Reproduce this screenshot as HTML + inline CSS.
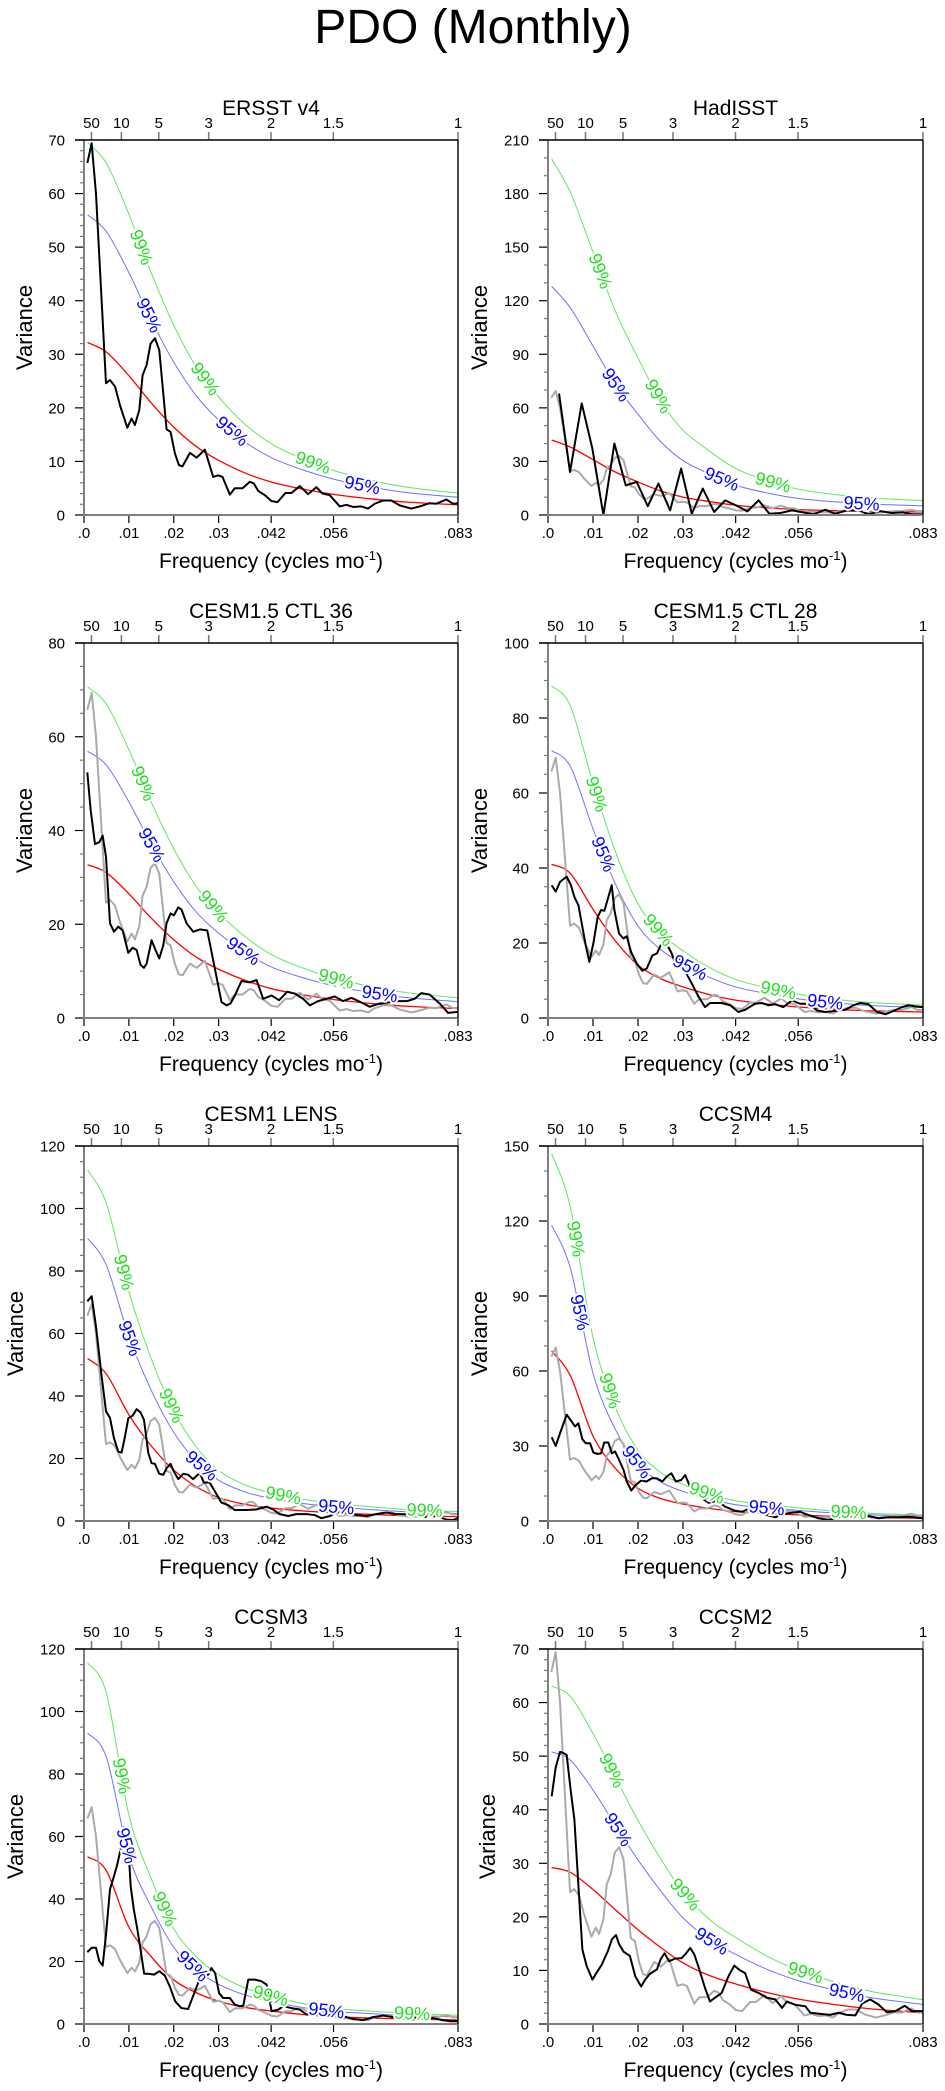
<!DOCTYPE html>
<html><head><meta charset="utf-8"><style>
html,body{margin:0;padding:0;background:#fff;}
svg{display:block;font-family:"Liberation Sans",Arial,sans-serif;}
</style></head><body>
<svg id="fig" width="945" height="2091" viewBox="0 0 945 2091" xmlns="http://www.w3.org/2000/svg">
<rect width="945" height="2091" fill="#fff"/>
<text x="473" y="43" font-size="48" text-anchor="middle">PDO (Monthly)</text>
</svg>
<script>
// ---- data (frequency in 1e-3 cycles/mo) ----
const BF_ERSST=[0.74,1.71,2.67,4.90,5.79,6.90,8.01,9.65,10.61,11.35,12.32,13.06,13.95,14.84,15.80,16.77,18.40,19.29,20.26,21.15,21.96,23.60,25.08,26.93,28.79,29.90,30.87,32.50,33.61,35.32,36.95,37.84,38.81,40.29,41.78,43.11,44.89,46.23,48.08,49.94,51.79,53.13,54.76,56.99,58.47,59.95,61.81,63.29,64.78,66.63,68.49,70.34,72.94,74.79,77.02,78.50,80.73,82.21,83.33];
const BV_ERSST=[65.7,69.4,60,24.6,25.2,24,20.5,16.3,18,16.8,19.6,26.1,28,32,33,30.8,16,15.5,11.5,9.3,9.1,11.6,10.7,12.2,7.1,7.4,7.1,3.8,5,5,6.2,5.9,4.5,3.7,2.6,2.4,4.1,4.1,5.4,3.9,5.2,4,3.7,1.6,1.9,1.5,1.6,1.2,2.1,2.7,2.7,1.8,1.2,1.6,2.2,2.1,2.9,2.1,2.2];
const BF_HAD=[2.45,4.89,7.49,9.86,12.31,14.75,17.27,19.72,22.17,24.54,27.14,29.58,31.95,34.4,36.92,39.37,41.8,44.3,46.8,49.2,51.6,54.2,59,61.6,63.8,66.4,69,71.2,73.8,76.4,78.7,80.9,83.3];
const BV_HAD=[68,24.1,62.5,37.2,0,40,16.6,18.5,4.9,17.6,2.6,26,0.7,14.8,1.7,8.2,5.4,2,8.2,0.7,1.1,2.6,0.4,3,0.7,2.6,2.6,0.4,2.2,1.1,1.5,0.4,0.4];
const BF_C36=[0.74,1.48,2.45,3.41,4.16,4.90,5.79,6.68,7.64,8.61,9.87,10.83,11.72,12.61,13.36,13.95,15.06,15.80,16.77,17.66,18.40,19.29,20.03,21.0,21.74,22.85,24.34,25.82,27.45,28.79,30.64,31.76,32.65,33.61,35.1,36.95,38.44,39.92,41.78,43.48,45.26,46.97,48.82,50.31,52.16,54.02,55.87,57.73,59.58,61.81,63.66,65.89,67.74,69.97,71.97,73.68,75.16,77.02,79.25,81.10,83.33];
const BV_C36=[52.4,44.4,37.1,37.5,38.9,34.4,20.2,18.4,19.5,18.7,13.9,15,14.5,11.3,10.7,11.6,16.6,14.8,12.7,15.5,20.2,22.3,21.9,23.6,23.1,20.2,18.4,18.9,18.7,12.3,3.4,2.7,3.1,4.8,7.9,7.6,8.1,4.1,4.8,3.8,5.6,5.2,4.1,2.7,3.6,4.1,4.6,3.6,4.3,3.3,2.4,3.1,3.3,3.6,3.6,4.1,5.3,5,3.1,1.1,1.3];
const BF_C28=[0.82,1.71,2.67,4.15,5.1,5.86,6.75,7.64,8.38,9.19,10.08,11.05,11.8,12.53,13.42,14.16,14.75,15.79,16.76,17.5,18.46,19.72,20.98,21.95,23.2,24.2,25.4,26.4,27.5,28.4,29.6,30.8,31.95,33.4,34.9,36,38.6,40.5,42.3,43.8,46,47.5,49,50.5,52.3,54.2,56,57.9,59.8,61.6,63.8,66.1,67.9,69.4,71.2,73.1,75,76.8,78.7,80.1,81.6,83.3];
const BV_C28=[35.4,33.7,36.3,37.7,35.4,32.3,30.1,24.3,19.4,15,19.9,27,28.8,28.6,32.3,35.4,28.8,22.5,21.2,21.8,17.6,14.5,12.6,13.2,16.7,17.2,20.3,19.7,17.2,14.1,15.9,11.8,9.2,5.8,2.9,4,4,3.4,1.6,2.2,3.8,4,3.4,3.7,2.9,4.7,3.8,3.8,2,1.6,1.9,2.2,3.4,4,3.7,1.6,1,1.9,2.9,3.4,3.1,2.9];
const BF_LENS=[0.74,1.71,2.67,3.93,4.90,5.79,6.68,7.64,8.38,9.13,9.87,10.83,11.72,12.61,13.36,14.32,15.06,15.8,16.77,17.66,18.4,19.29,20.03,21,22.1,23.2,24.3,25.8,26.7,28.0,29.2,30.6,32.1,33.6,36.2,38.4,40.7,42.1,43.6,45.5,47.3,49.6,51.4,52.9,54.8,56.2,58.5,60.7,62.9,65.1,67.4,69.6,71.8,74,76.3,78.5,80.7,82.2,83.3];
const BV_LENS=[70.3,71.9,62.3,46.3,35.1,33,26.5,22.2,21.9,27,32.9,33.7,35.8,34.7,32.4,21.8,18.5,18.3,15.1,14.8,16.9,18.3,15.8,13.4,15.1,14.8,13.4,15.4,12.3,12.3,9.4,5.9,5.1,3.5,3.5,3.7,4.6,3.7,2.2,1.6,2.2,2.2,1.9,0.9,1.6,2.7,2.7,1.9,1.6,2.2,2.7,2.2,2.2,2.2,1.2,1.6,0.5,0.3,0.9];
const BF_CCSM4=[0.82,1.71,2.67,4.15,5.26,6.0,6.75,7.64,8.38,9.34,10.08,11.05,11.8,12.5,13.4,14.2,14.9,15.8,16.8,17.5,18.5,19.5,20.7,21.9,23.1,24.2,25.4,26.4,27.4,28.4,29.6,30.5,31.4,32.7,34.2,35.7,37.5,39.4,41.6,43.1,44.9,46.8,48.6,50.5,52.3,54.2,56,57.9,60.1,62.4,64.6,66.8,69,71.2,73.5,75.7,77.9,80.1,83.3];
const BV_CCSM4=[33.5,30,35.1,42.5,39.8,37.8,39.1,32.7,31.1,31.1,27.4,26.8,27.1,31.4,31.4,27.1,27.8,24.4,20.4,15.8,12.2,14.4,16.2,15.8,17.1,17.1,15.8,17.8,19.1,15.8,16.4,18.4,14.4,12.4,9.1,7.3,8.1,5.7,4.1,3.7,5.1,3.7,2.4,1.5,2.8,3.3,3.7,2.4,1.1,0.4,1.5,2.8,2.8,2,1.1,1.5,1.5,1.7,1.1];
const BF_CCSM3=[0.74,1.71,2.67,3.41,4.16,4.90,5.79,6.68,7.42,8.16,8.9,9.65,10.4,11.1,11.9,12.6,13.4,14.3,15.6,16.8,18,19.1,20.3,21.7,23.2,24.3,25.5,26.6,27.7,28.4,29.2,30.1,31,32.5,33.6,34.7,35.5,36.6,38.1,39.5,40.7,41.8,43.3,44.4,46.2,48.1,49.6,51.8,53.6,55.5,57.7,60,62.2,64.4,66.6,68.9,71.1,73.3,75.5,77.8,80,81.5,83.3];
const BV_CCSM3=[23,24.4,24.4,20.1,18.7,28.6,43.1,47.3,51.1,55.9,63,62.3,44.1,36.6,30.2,23.8,16.1,16.1,15.8,16.9,15.5,12.1,7.3,5.1,4.8,8.9,13.4,15.5,15.8,17.9,16.3,9.9,8.3,8.3,6.2,5.7,5.9,14.2,14.2,13.7,12.6,4.1,4.6,5.7,5.1,4.6,3,3.5,2.7,3,2.5,1.6,1.2,2.2,2.7,2.2,2.5,2.2,1.9,1.9,1.2,0.9,0.9];
const BF_CCSM2=[0.82,1.71,2.67,3.41,4.15,5.1,5.86,6.9,7.64,8.6,9.86,11.05,11.9,13.3,14.2,15.1,15.8,16.8,18.2,19.4,20.7,21.6,22.7,24.2,25.1,25.9,26.9,28.2,29.7,30.5,31.6,32.5,33.4,34.9,36,37.1,38.6,40.1,41.4,42.7,43.8,45.1,46.8,48.6,50.5,52,53.1,54.9,57.2,58.3,60.5,62.7,64.6,66.4,68.3,69.8,71.6,73.5,75.3,77.2,79.3,80.9,83.3];
const BV_CCSM2=[42.5,47.9,50.8,50.6,50.2,43.2,38.2,23.9,13.9,10.8,8.3,9.9,11,13.6,15.8,16.6,14.9,13.5,12.7,8.9,7,8.3,9.4,10.2,12.2,13.2,11.7,12.2,12.3,13,14.2,13,10.8,6.7,4.2,4.9,5.8,8.9,10.9,10,9.5,6.4,5.8,4.9,4.6,3,4.2,3.6,3.3,2.1,1.9,1.7,2.1,1.7,1.6,3.8,4.6,3.6,2.2,2.4,3.4,2.4,2.4];
// red-noise spectra sampled on a common frequency grid
const RED_FREQ=[0.8,5,10,15,20,25,30,36,42,49,56,64,72,83.3];
const RED_ERSST=[32.2,30.4,26,20.9,16.4,12.8,10.2,7.8,6.1,4.8,3.8,3.0,2.4,1.9];
const RED_HAD=[42,38,31,24,18.5,13.5,10,7.5,5.4,4,3,2.4,2,1.7];
const RED_C36=[32.7,31,26.5,21.3,16.7,13,10.4,8,6.2,4.9,3.9,3.1,2.5,2.0];
const RED_C28=[41,38.5,29,20.5,14.1,10.5,8.3,6.2,4.7,3.7,2.9,2.3,1.9,1.6];
const RED_LENS=[52,47,34,24,16.3,11,7.5,5.3,4.1,3.2,2.6,2.1,1.7,1.4];
const RED_CCSM4=[68,58,34,21,13.1,9,6.8,5,3.7,3,2.4,1.8,1.4,1.1];
const RED_CCSM3=[53.5,49,31,21.5,14.1,10,7.3,5.3,4.1,3,2.3,1.9,1.6,1.3];
const RED_CCSM2=[29.2,28.3,25.1,21.3,17.6,14.3,11.4,9,7.4,5.8,4.6,3.6,2.8,2.1];
const K95=[1.74,3.05,1.74,1.74,1.74,1.74,1.74,1.74];
const K99=[2.16,4.75,2.16,2.16,2.16,2.16,2.16,2.16];
const TITLES=["ERSST v4","HadISST","CESM1.5 CTL 36","CESM1.5 CTL 28","CESM1 LENS","CCSM4","CCSM3","CCSM2"];
const YMAX=[70,210,80,100,120,150,120,70];
const YMAJOR=[10,30,20,20,20,30,20,10];
const YMINOR=[2,10,5,5,5,10,5,2];
const L99=[[12.8,27,51],[11.6,24.5,50],[13.2,28.8,56.2],[10.8,24.5,51.2],[8.9,19.5,44.4,75.9],[6.2,13.8,35.3,66.8],[8.4,18,41.6,73.1],[14.2,30.5,57.2]];
const L95=[[14.5,33,62],[15.1,38.6,69.7],[15.1,35.5,65.9],[12.3,31.6,61.6],[10.2,26.2,56.2],[7.1,19.7,48.6],[9.5,24.2,54],[15.6,36.4,66.4]];
const XTICKS=[0,10,20,30,41.7,55.6,83.33];
const XTICK_LABELS=[".0",".01",".02",".03",".042",".056",".083"];
const PERIODS=[50,10,5,3,2,1.5,1];
const PERIOD_LABELS=["50","10","5","3","2","1.5","1"];

const BF=[BF_ERSST,BF_HAD,BF_C36,BF_C28,BF_LENS,BF_CCSM4,BF_CCSM3,BF_CCSM2];
const BV=[BV_ERSST,BV_HAD,BV_C36,BV_C28,BV_LENS,BV_CCSM4,BV_CCSM3,BV_CCSM2];
const REDS=[RED_ERSST,RED_HAD,RED_C36,RED_C28,RED_LENS,RED_CCSM4,RED_CCSM3,RED_CCSM2];

const NS="http://www.w3.org/2000/svg";
const svg=document.getElementById('fig');
function mk(tag,attrs,parent){const e=document.createElementNS(NS,tag);for(const k in attrs)e.setAttribute(k,attrs[k]);(parent||svg).appendChild(e);return e;}
const COLS=[[84,458],[548,923]];
const ROWS=[140,643,1146,1649];
const VARX=[26,481,26,481,17,481,17,489];
const XMAX=83.333;

function smooth(pts){let d="M"+pts[0][0].toFixed(2)+","+pts[0][1].toFixed(2);
  for(let i=0;i<pts.length-1;i++){const p0=pts[Math.max(0,i-1)],p1=pts[i],p2=pts[i+1],p3=pts[Math.min(pts.length-1,i+2)];
    const c1=[p1[0]+(p2[0]-p0[0])/6,p1[1]+(p2[1]-p0[1])/6],c2=[p2[0]-(p3[0]-p1[0])/6,p2[1]-(p3[1]-p1[1])/6];
    d+="C"+c1[0].toFixed(2)+","+c1[1].toFixed(2)+" "+c2[0].toFixed(2)+","+c2[1].toFixed(2)+" "+p2[0].toFixed(2)+","+p2[1].toFixed(2);}
  return d;}
function interp(xs,ys,x){if(x<=xs[0])return ys[0];for(let i=0;i<xs.length-1;i++){if(x<=xs[i+1]){const t=(x-xs[i])/(xs[i+1]-xs[i]);return ys[i]+t*(ys[i+1]-ys[i]);}}return ys[ys.length-1];}

for(let p=0;p<8;p++){
  const L=COLS[p%2][0],R=COLS[p%2][1],T=ROWS[Math.floor(p/2)],B=T+375,W=R-L,H=B-T;
  const ymax=YMAX[p];
  const sx=f=>L+f/XMAX*W, sy=v=>B-v/ymax*H;
  const g=mk('g',{});
  
  
  const cid='clip'+p;
  const cp=mk('clipPath',{id:cid},g);mk('rect',{x:L,y:T,width:W,height:H},cp);
  // title
  const t=mk('text',{x:(L+R)/2,y:T-25,'font-size':21,'text-anchor':'middle'},g);t.textContent=TITLES[p];
  
  
  // y ticks
  for(let v=0;v<=ymax+1e-9;v+=YMINOR[p]){
    const major=Math.abs(v/YMAJOR[p]-Math.round(v/YMAJOR[p]))<1e-6;
    const tk=mk('line',{x1:L-(major?9:4),x2:L,y1:sy(v),y2:sy(v),stroke:major?'#000':'#777','stroke-width':1.2},g);
    
    
    if(major){const tl=mk('text',{x:L-19,y:sy(v)+5.5,'font-size':15,'text-anchor':'end'},g);tl.textContent=String(Math.round(v));
      
      }
  }
  // x ticks
  XTICKS.forEach((f,i)=>{const tk=mk('line',{x1:sx(f),x2:sx(f),y1:B,y2:B+8,stroke:'#000','stroke-width':1.2},g);
    
    
    const tl=mk('text',{x:sx(f),y:B+23,'font-size':15,'text-anchor':'middle'},g);tl.textContent=XTICK_LABELS[i];
    
    });
  // top period ticks
  PERIODS.forEach((per,i)=>{const f=1000/(12*per);
    const tk=mk('line',{x1:sx(f),x2:sx(f),y1:T,y2:T-8,stroke:'#777','stroke-width':1.5},g);
    
    
    const tl=mk('text',{x:sx(f),y:T-12,'font-size':15,'text-anchor':'middle'},g);tl.textContent=PERIOD_LABELS[i];
    
    });
  // axis labels
  const yl=mk('text',{x:VARX[p],y:(T+B)/2,'font-size':22,'text-anchor':'middle',transform:'rotate(-90 '+VARX[p]+' '+(T+B)/2+')','dominant-baseline':'middle'},g);yl.textContent='Variance';
  
  
  const xl=mk('text',{x:(L+R)/2,y:B+53,'font-size':21,'text-anchor':'middle'},g);
  
  
  xl.appendChild(document.createTextNode('Frequency (cycles mo'));
  const s1=mk('tspan',{dy:-8,'font-size':13},xl);s1.textContent='-1';
  const s2=mk('tspan',{dy:8},xl);s2.textContent=')';
  // curves
  const lines=mk('g',{'clip-path':'url(#'+cid+')'},g);
  const red=REDS[p];
  const sig=[[K99[p],'#5ee85e','99%','#22dd22',L99[p]],[K95[p],'#7070ff','95%','#0000ff',L95[p]]];
  sig.forEach(s=>{const pts=RED_FREQ.map((f,i)=>[sx(f),sy(red[i]*s[0])]);
    const pa=mk('path',{d:smooth(pts),fill:'none',stroke:s[1],'stroke-width':1},lines);
    
    });
  const rpts=RED_FREQ.map((f,i)=>[sx(f),sy(red[i])]);
  const rp=mk('path',{d:smooth(rpts),fill:'none',stroke:'#ff0000','stroke-width':1.3},lines);
  
  
  if(p>0){const gp=mk('polyline',{points:BF_ERSST.map((f,i)=>sx(f).toFixed(2)+','+sy(BV_ERSST[i]).toFixed(2)).join(' '),fill:'none',stroke:'#aaaaaa','stroke-width':2,'stroke-linejoin':'round'},lines);
    
    }
  const bp=mk('polyline',{points:BF[p].map((f,i)=>sx(f).toFixed(2)+','+sy(BV[p][i]).toFixed(2)).join(' '),fill:'none',stroke:'#000','stroke-width':2,'stroke-linejoin':'round'},lines);
  
  
  // significance labels
  sig.forEach(s=>{s[4].forEach(f=>{
    const x1=sx(f-1),y1=sy(interp(RED_FREQ,red,f-1)*s[0]),x2=sx(f+1),y2=sy(interp(RED_FREQ,red,f+1)*s[0]);
    const cx=sx(f),cy=sy(interp(RED_FREQ,red,f)*s[0]);
    const ang=Math.atan2(y2-y1,x2-x1)*180/Math.PI;
    const tx=mk('text',{x:cx,y:cy,'font-size':18,'text-anchor':'middle','dominant-baseline':'central',fill:s[3],stroke:'#fff','stroke-width':4,'paint-order':'stroke',transform:'rotate('+ang.toFixed(1)+' '+cx.toFixed(1)+' '+cy.toFixed(1)+')'},g);
    tx.textContent=s[2];
    
    });});
  // frame
  const fl=mk('line',{x1:L,y1:T,x2:L,y2:B+1,stroke:'#808080','stroke-width':2},g);
  
  
  const fb=mk('line',{x1:L,y1:B,x2:R,y2:B,stroke:'#808080','stroke-width':2},g);
  
  
  const ft=mk('line',{x1:L-9,y1:T,x2:R,y2:T,stroke:'#000','stroke-width':1.4},g);
  
  
  const fr=mk('line',{x1:R,y1:T,x2:R,y2:B,stroke:'#000','stroke-width':1.4},g);
  
  
}
</script>
</body></html>
